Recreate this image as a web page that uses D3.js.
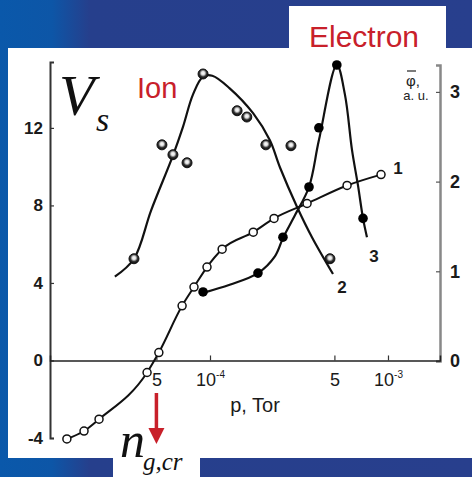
<!DOCTYPE html>
<html>
<head>
<meta charset="utf-8">
<script src="https://cdn.jsdelivr.net/npm/d3@7/dist/d3.min.js"></script>
<style>
  html, body { margin: 0; padding: 0; background: #273f8c; }
  svg { display: block; }
</style>
</head>
<body>
<svg id="chart" width="472" height="477"></svg>
<script>
// ---------- data (p in Tor) ----------
// Curve 1: V_s (left axis), open circles
const curve1P = [1.57e-5, 1.96e-5, 2.38e-5, 4.43e-5, 5.16e-5, 6.97e-5, 8.13e-5, 9.62e-5, 1.17e-4, 1.75e-4, 2.29e-4, 3.51e-4, 5.89e-4, 9.14e-4];
const curve1V = [-4.05, -3.64, -3.03, -0.62, 0.41, 2.82, 3.79, 4.82, 5.74, 6.62, 7.33, 8.10, 9.03, 9.59];

// Curve 2: Ion (right axis, phi a.u.), measured points
const curve2P = [3.74e-5, 5.37e-5, 6.19e-5, 7.43e-5, 9.14e-5, 1.42e-4, 1.61e-4, 2.06e-4, 2.85e-4, 4.72e-4];
const curve2Phi = [1.14, 2.41, 2.30, 2.21, 3.20, 2.79, 2.72, 2.41, 2.40, 1.14];
// Curve 2 fitted line
const fit2P = [2.92e-5, 3.74e-5, 4.67e-5, 6.19e-5, 7.05e-5, 8.02e-5, 9.14e-5, 1.03e-4, 1.29e-4, 1.75e-4, 2.17e-4, 2.47e-4, 3.08e-4, 3.74e-4, 4.91e-4];
const fit2Phi = [0.94, 1.14, 1.68, 2.29, 2.61, 2.97, 3.17, 3.18, 3.04, 2.76, 2.46, 2.16, 1.72, 1.38, 0.97];

// Curve 3: Electron (right axis), measured points
const curve3P = [9.14e-5, 1.86e-4, 2.57e-4, 3.60e-4, 4.09e-4, 5.16e-4, 7.24e-4];
const curve3Phi = [0.77, 0.98, 1.38, 1.94, 2.60, 3.30, 1.59];
// Curve 3 fitted line
const fit3P = [9.14e-5, 1.29e-4, 1.86e-4, 2.32e-4, 2.57e-4, 3.01e-4, 3.60e-4, 4.09e-4, 5.16e-4, 5.73e-4, 6.28e-4, 6.78e-4, 7.24e-4, 7.62e-4];
const fit3Phi = [0.76, 0.85, 0.98, 1.17, 1.37, 1.63, 1.94, 2.46, 3.30, 2.97, 2.35, 1.96, 1.59, 1.38];

// Ticks
const leftTicks = [-4, 0, 4, 8, 12];
const rightTicks = [0, 1, 2, 3];
const xTickVals = [5e-5, 1e-4, 5e-4, 1e-3];
const xTickLabels = ["5", "10", "5", "10"];
const xTickSup = ["", "-4", "", "-3"];

// ---------- drawing ----------
const svg = d3.select("#chart");
const defs = svg.append("defs");

const bg = defs.append("linearGradient").attr("id", "bg").attr("x1", "0").attr("x2", "1").attr("y1", "0").attr("y2", "0");
bg.append("stop").attr("offset", "0").attr("stop-color", "#0a58aa");
bg.append("stop").attr("offset", "0.11").attr("stop-color", "#0d56a7");
bg.append("stop").attr("offset", "0.19").attr("stop-color", "#263f8c");
bg.append("stop").attr("offset", "1").attr("stop-color", "#283f8d");

const ball = defs.append("radialGradient").attr("id", "ball").attr("cx", "0.5").attr("cy", "0.42").attr("r", "0.6");
ball.append("stop").attr("offset", "0").attr("stop-color", "#ffffff");
ball.append("stop").attr("offset", "0.3").attr("stop-color", "#dddddd");
ball.append("stop").attr("offset", "0.6").attr("stop-color", "#333333");
ball.append("stop").attr("offset", "1").attr("stop-color", "#000000");

svg.append("rect").attr("width", 472).attr("height", 477).attr("fill", "url(#bg)");
// White panels
svg.append("rect").attr("x", 8).attr("y", 48).attr("width", 464).attr("height", 410).attr("fill", "#fff");
svg.append("rect").attr("x", 289).attr("y", 6).attr("width", 157).attr("height", 43).attr("fill", "#fff");
svg.append("rect").attr("x", 113).attr("y", 457).attr("width", 87).attr("height", 20).attr("fill", "#fff");

// Scales
const x = d3.scaleLog().domain([1.262e-5, 1.96e-3]).range([50, 440]);
const yL = d3.scaleLinear().domain([-4, 15.4]).range([438, 62]);
const yR = d3.scaleLinear().domain([0, 3.3]).range([361, 65]);

const axisFont = "Liberation Sans, Arial, sans-serif";

// Left axis
const gL = svg.append("g").attr("transform", "translate(50,0)")
  .call(d3.axisLeft(yL).tickValues(leftTicks).tickSize(-4).tickFormat(d => d));
gL.select(".domain").attr("stroke", "#333").attr("stroke-width", 2);
gL.selectAll(".tick line").attr("stroke", "#333").attr("stroke-width", 1.2);
gL.selectAll(".tick text").attr("font-family", axisFont).attr("font-size", 17).attr("fill", "#1a1a1a").attr("x", -7).attr("font-weight", "bold");

// Right axis
const gR = svg.append("g").attr("transform", "translate(440,0)")
  .call(d3.axisRight(yR).tickValues(rightTicks).tickSize(-4).tickFormat(d => d));
gR.select(".domain").attr("stroke", "#888").attr("stroke-width", 2.5);
gR.selectAll(".tick line").attr("stroke", "#555").attr("stroke-width", 1.2);
gR.selectAll(".tick text").attr("font-family", axisFont).attr("font-size", 18).attr("fill", "#1a1a1a").attr("x", 10).attr("font-weight", "bold");

// Bottom axis (at V=0)
const gX = svg.append("g").attr("transform", `translate(0,${yL(0)})`)
  .call(d3.axisBottom(x).tickValues(xTickVals).tickSize(-5).tickFormat(""));
gX.select(".domain").attr("stroke", "#222").attr("stroke-width", 1.5);
gX.selectAll(".tick line").attr("stroke", "#333").attr("stroke-width", 1.2);
const xl = gX.selectAll(".tick").append("text")
  .attr("y", 26).attr("font-family", axisFont).attr("font-size", 18).attr("fill", "#1a1a1a")
  .attr("text-anchor", "middle");
xl.each(function(d, i) {
  const t = d3.select(this);
  t.append("tspan").text(xTickLabels[i]);
  if (xTickSup[i]) t.append("tspan").attr("font-size", 10).attr("dy", -8).text(xTickSup[i]);
});

svg.append("text").attr("x", 255).attr("y", 412).attr("text-anchor", "middle")
  .attr("font-family", axisFont).attr("font-size", 20).attr("fill", "#1a1a1a").text("p, Tor");

// Right axis title
svg.append("text").attr("x", 413).attr("y", 86).attr("text-anchor", "middle")
  .attr("font-family", axisFont).attr("font-size", 15).attr("fill", "#222").text("φ,");
svg.append("line").attr("x1", 407).attr("x2", 416).attr("y1", 71).attr("y2", 71).attr("stroke", "#222").attr("stroke-width", 1.2);
svg.append("text").attr("x", 416).attr("y", 100).attr("text-anchor", "middle")
  .attr("font-family", axisFont).attr("font-size", 13).attr("fill", "#222").text("a. u.");

// Lines
const line1 = d3.line().x(d => x(d[0])).y(d => yL(d[1])).curve(d3.curveMonotoneX);
const lineR = d3.line().x(d => x(d[0])).y(d => yR(d[1])).curve(d3.curveCatmullRom.alpha(0.5));

svg.append("path").attr("d", line1(d3.zip(curve1P, curve1V)))
  .attr("fill", "none").attr("stroke", "#111").attr("stroke-width", 2);
svg.append("path").attr("d", lineR(d3.zip(fit2P, fit2Phi)))
  .attr("fill", "none").attr("stroke", "#111").attr("stroke-width", 2.2);
svg.append("path").attr("d", lineR(d3.zip(fit3P, fit3Phi)))
  .attr("fill", "none").attr("stroke", "#111").attr("stroke-width", 2.2);

// Points
svg.append("g").selectAll("circle").data(d3.zip(curve2P, curve2Phi)).join("circle")
  .attr("cx", d => x(d[0])).attr("cy", d => yR(d[1])).attr("r", 5)
  .attr("fill", "url(#ball)").attr("stroke", "#111").attr("stroke-width", 1);
svg.append("g").selectAll("circle").data(d3.zip(curve3P, curve3Phi)).join("circle")
  .attr("cx", d => x(d[0])).attr("cy", d => yR(d[1])).attr("r", 4.8)
  .attr("fill", "#000");
svg.append("g").selectAll("circle").data(d3.zip(curve1P, curve1V)).join("circle")
  .attr("cx", d => x(d[0])).attr("cy", d => yL(d[1])).attr("r", 4)
  .attr("fill", "#fff").attr("stroke", "#111").attr("stroke-width", 1.5);

// Curve labels
const lab = [["1", 398, 174], ["2", 342, 293], ["3", 374, 262]];
svg.append("g").selectAll("text").data(lab).join("text")
  .attr("x", d => d[1]).attr("y", d => d[2]).attr("text-anchor", "middle")
  .attr("font-family", axisFont).attr("font-size", 17).attr("font-weight", "bold").attr("fill", "#1a1a1a")
  .text(d => d[0]);

// V_s
const serif = "Liberation Serif, Times New Roman, serif";
svg.append("text").attr("x", 59).attr("y", 115).attr("font-family", serif).attr("font-style", "italic")
  .attr("font-size", 58).attr("fill", "#111").text("V");
svg.append("text").attr("x", 96).attr("y", 131).attr("font-family", serif).attr("font-style", "italic")
  .attr("font-size", 34).attr("fill", "#111").text("s");

// Ion / Electron
svg.append("text").attr("x", 137).attr("y", 98).attr("font-family", axisFont)
  .attr("font-size", 29).attr("fill", "#c8202a").text("Ion");
svg.append("text").attr("x", 309).attr("y", 47).attr("font-family", axisFont)
  .attr("font-size", 30).attr("fill", "#c8202a").text("Electron");

// Red arrow at critical pressure
const pcr = 5.0e-5;
svg.append("line").attr("x1", x(pcr)).attr("x2", x(pcr)).attr("y1", 393).attr("y2", 430)
  .attr("stroke", "#c8202a").attr("stroke-width", 3.5);
svg.append("path")
  .attr("d", `M${x(pcr) - 8},428 L${x(pcr) + 8},428 L${x(pcr)},444 Z`)
  .attr("fill", "#c8202a");

// n_g,cr
svg.append("text").attr("x", 120).attr("y", 457).attr("font-family", serif).attr("font-style", "italic")
  .attr("font-size", 50).attr("fill", "#111").text("n");
svg.append("text").attr("x", 143).attr("y", 470).attr("font-family", serif).attr("font-style", "italic")
  .attr("font-size", 25).attr("fill", "#111").text("g,cr");
</script>
</body>
</html>
